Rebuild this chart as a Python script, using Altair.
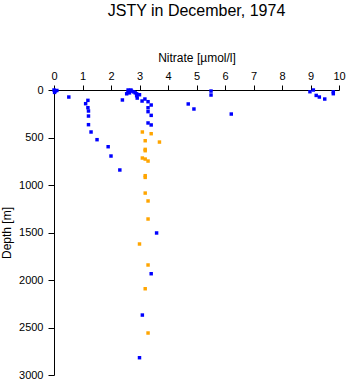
import altair as alt
import pandas as pd

# Blue series (bottle samples)
blue_nitrate = [0.0, 0.05, 0.1, 0.02, 0.52, 1.19, 1.11, 1.19, 1.21, 1.21, 1.21, 1.30, 1.51, 1.90, 2.00, 2.31,
                2.60, 2.65, 2.70, 2.72, 2.60, 2.55, 2.65, 2.80, 2.85, 2.90, 2.90, 2.92, 3.00, 2.40,
                3.09, 3.19, 3.30, 3.41, 3.30, 3.30, 3.41, 3.30, 3.41,
                5.51, 5.51, 4.71, 4.91, 6.22,
                8.98, 9.10, 9.20, 9.31, 9.50, 9.80, 9.80,
                3.60, 3.41, 3.10, 3.00]
blue_depth = [0, 10, 5, 25, 74, 109, 144, 186, 221, 274, 365, 442, 523, 597, 695, 842,
              0, 8, 0, 12, 25, 40, 30, 20, 30, 40, 60, 85, 50, 105,
              116, 95, 123, 158, 187, 228, 267, 347, 368,
              11, 53, 147, 200, 253,
              18, 0, 57, 74, 95, 18, 39,
              1505, 1934, 2369, 2818]

# Orange series
orange_nitrate = [3.10, 3.41, 3.20, 3.70, 3.20, 3.20, 3.10, 3.20, 3.30, 3.20, 3.20, 3.20,
                  3.30, 3.30, 3.00, 3.30, 3.20, 3.30]
orange_depth = [442, 460, 534, 548, 625, 639, 716, 727, 748, 902, 920, 1085,
                1168, 1358, 1621, 1842, 2092, 2558]

df = pd.DataFrame({
    "nitrate": blue_nitrate + orange_nitrate,
    "depth": blue_depth + orange_depth,
    "series": ["blue"] * len(blue_nitrate) + ["orange"] * len(orange_nitrate),
})

FONT = "Liberation Sans"

chart = alt.Chart(df).mark_square(size=12, opacity=1).encode(
    x=alt.X("nitrate:Q",
            scale=alt.Scale(domain=[0, 10], nice=False),
            axis=alt.Axis(orient="top", title="Nitrate [µmol/l]", values=list(range(0, 11)),
                          format="d", grid=False, labelFlush=False, labelOverlap=False,
                          tickSize=5, labelPadding=4, titlePadding=6)),
    y=alt.Y("depth:Q",
            scale=alt.Scale(domain=[0, 3000], reverse=True, nice=False),
            axis=alt.Axis(title="Depth [m]", values=list(range(0, 3001, 500)),
                          format="d", grid=False, labelFlush=False, labelOverlap=False,
                          tickSize=6, labelPadding=5, titlePadding=5)),
    color=alt.Color("series:N",
                    scale=alt.Scale(domain=["blue", "orange"], range=["#0000ff", "#ffa500"]),
                    legend=None),
).properties(
    width=285,
    height=285,
    autosize=alt.AutoSizeParams(type="none"),
    padding={"left": 54, "top": 90, "right": 9, "bottom": 9},
    title=alt.TitleParams("JSTY in December, 1974", fontSize=16, font=FONT,
                          fontWeight="normal", anchor="middle", offset=32, color="black"),
).configure_view(
    stroke=None
).configure_axis(
    domainColor="black", tickColor="black", labelColor="black", titleColor="black",
    labelFont=FONT, titleFont=FONT, labelFontSize=11, titleFontSize=12,
    titleFontWeight="normal", domainWidth=1, tickWidth=1
)

chart.save("out.html", embed_options={"renderer": "svg", "actions": False})
